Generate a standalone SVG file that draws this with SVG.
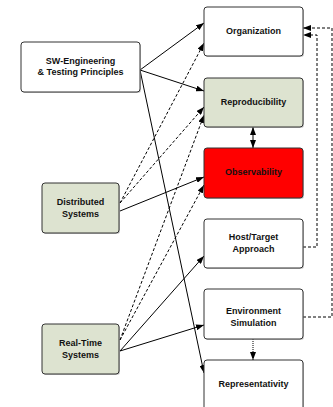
<svg xmlns="http://www.w3.org/2000/svg" width="333" height="407" viewBox="0 0 333 407">
  <style>
    .box { stroke: #333; stroke-width: 1; }
    .plain { fill: #ffffff; }
    .green { fill: #dde3d0; }
    .red { fill: #ff0000; }
    .shadow { fill: #999; opacity: 0.5; }
    text { font-family: "Liberation Sans", Arial, sans-serif; font-size: 9px; font-weight: bold; fill: #111; text-anchor: middle; }
    .edge { fill: none; stroke: #000; stroke-width: 1; }
    .dash { stroke-dasharray: 3 2; }
    .dot { stroke-dasharray: 1 1; }
  </style>
  <defs>
    <marker id="ah" viewBox="0 0 8 6" refX="8" refY="3" markerWidth="8" markerHeight="6" markerUnits="userSpaceOnUse" orient="auto">
      <path d="M0,0 L8,3 L0,6 z" fill="#000"/>
    </marker>
    <marker id="ahs" viewBox="0 0 8 6" refX="8" refY="3" markerWidth="8" markerHeight="6" markerUnits="userSpaceOnUse" orient="auto-start-reverse">
      <path d="M0,0 L8,3 L0,6 z" fill="#000"/>
    </marker>
  </defs>

  <g id="connectors">
    <!-- SW-Engineering outputs -->
    <line class="edge" x1="140" y1="70" x2="204" y2="23" marker-end="url(#ah)"/>
    <line class="edge" x1="140" y1="70" x2="204" y2="91" marker-end="url(#ah)"/>
    <line class="edge" x1="140" y1="70" x2="204" y2="373" marker-end="url(#ah)"/>
    <!-- Distributed Systems outputs -->
    <line class="edge dash" x1="120" y1="203" x2="204" y2="43" marker-end="url(#ah)"/>
    <line class="edge dash" x1="120" y1="203" x2="204" y2="107" marker-end="url(#ah)"/>
    <line class="edge" x1="120" y1="211" x2="204" y2="177" marker-end="url(#ah)"/>
    <!-- Real-Time Systems outputs -->
    <line class="edge dash" x1="120" y1="340" x2="204" y2="115" marker-end="url(#ah)"/>
    <line class="edge dash" x1="120" y1="340" x2="204" y2="185" marker-end="url(#ah)"/>
    <line class="edge" x1="120" y1="351" x2="204" y2="256" marker-end="url(#ah)"/>
    <line class="edge" x1="120" y1="351" x2="204" y2="325" marker-end="url(#ah)"/>
    <!-- Reproducibility <-> Observability -->
    <line class="edge" x1="253" y1="127" x2="253" y2="148" marker-start="url(#ahs)" marker-end="url(#ah)"/>
    <!-- Environment Simulation -> Representativity -->
    <line class="edge dot" x1="253" y1="339" x2="253" y2="360" marker-end="url(#ah)"/>
    <!-- feedback loops to Organization -->
    <polyline class="edge dash" points="303,247 317,247 317,35 303,35" marker-end="url(#ah)"/>
    <polyline class="edge dash" points="303,317 332,317 332,28 303,28" marker-end="url(#ah)"/>
  </g>

  <g id="sw-engineering">
    <rect class="shadow" x="22" y="43" width="119" height="50" rx="3"/>
    <rect class="box plain" x="21" y="42" width="119" height="50" rx="3"/>
    <text x="80.5" y="64">SW-Engineering</text>
    <text x="80.5" y="75">&amp; Testing Principles</text>
  </g>

  <g id="distributed-systems">
    <rect class="shadow" x="43" y="184" width="77" height="50" rx="3"/>
    <rect class="box green" x="42" y="183" width="77" height="50" rx="3"/>
    <text x="80.5" y="205">Distributed</text>
    <text x="80.5" y="217">Systems</text>
  </g>

  <g id="real-time-systems">
    <rect class="shadow" x="43" y="325" width="77" height="50" rx="3"/>
    <rect class="box green" x="42" y="324" width="77" height="50" rx="3"/>
    <text x="80.5" y="346">Real-Time</text>
    <text x="80.5" y="358">Systems</text>
  </g>

  <g id="organization">
    <rect class="shadow" x="205" y="8" width="99" height="49" rx="3"/>
    <rect class="box plain" x="204" y="7" width="99" height="49" rx="3"/>
    <text x="253.5" y="34">Organization</text>
  </g>

  <g id="reproducibility">
    <rect class="shadow" x="205" y="79" width="99" height="49" rx="3"/>
    <rect class="box green" x="204" y="78" width="99" height="49" rx="3"/>
    <text x="253.5" y="105">Reproducibility</text>
  </g>

  <g id="observability">
    <rect class="shadow" x="205" y="149" width="99" height="50" rx="3"/>
    <rect class="box red" x="204" y="148" width="99" height="50" rx="3"/>
    <text x="253.5" y="175">Observability</text>
  </g>

  <g id="host-target">
    <rect class="shadow" x="205" y="220" width="99" height="49" rx="3"/>
    <rect class="box plain" x="204" y="219" width="99" height="49" rx="3"/>
    <text x="253.5" y="240">Host/Target</text>
    <text x="253.5" y="252">Approach</text>
  </g>

  <g id="environment-simulation">
    <rect class="shadow" x="205" y="290" width="99" height="50" rx="3"/>
    <rect class="box plain" x="204" y="289" width="99" height="50" rx="3"/>
    <text x="253.5" y="314">Environment</text>
    <text x="253.5" y="326">Simulation</text>
  </g>

  <g id="representativity">
    <rect class="shadow" x="205" y="361" width="99" height="50" rx="3"/>
    <rect class="box plain" x="204" y="360" width="99" height="50" rx="3"/>
    <text x="253.5" y="387">Representativity</text>
  </g>
</svg>
